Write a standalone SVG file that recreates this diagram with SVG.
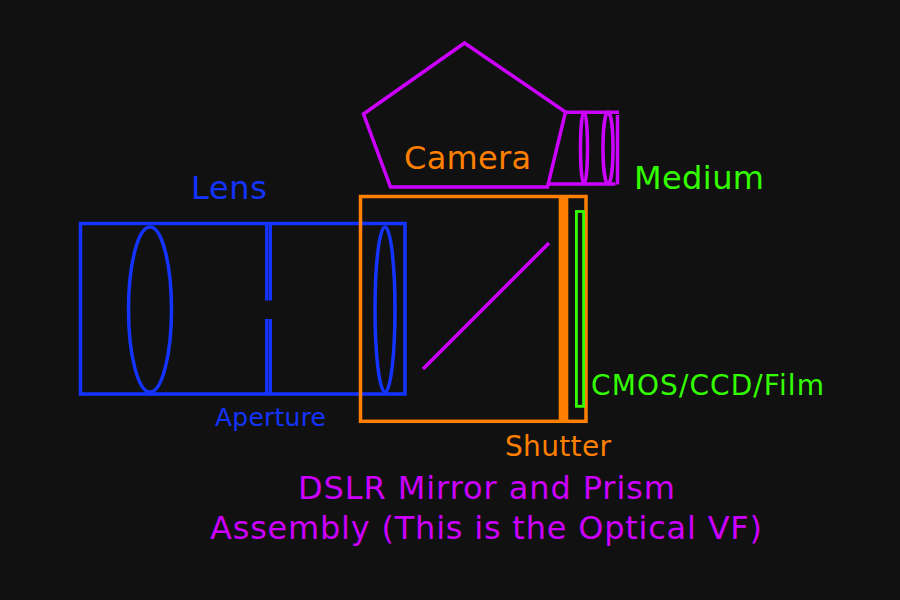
<svg xmlns="http://www.w3.org/2000/svg" width="900" height="600" viewBox="0 0 900 600">
<style>
.s{fill:none;stroke-width:3.5}
.b{stroke:#1433ff}.o{stroke:#ff8000}.p{stroke:#cc00ff}.g{stroke:#33ff00}
text{font-family:"DejaVu Sans",sans-serif;text-anchor:middle;text-rendering:optimizeSpeed}
</style>
<rect width="900" height="600" fill="#111111"/>
<g id="lens">
<rect class="s b" x="80.500" y="223.500" width="324.500" height="170.500"/>
<ellipse class="s b" cx="150" cy="309.500" rx="21.500" ry="82.500"/>
<ellipse class="s b" cx="385" cy="309.500" rx="10" ry="82.500"/>
<text x="229" y="199" font-size="32" fill="#1433ff" textLength="76">Lens</text>
</g>
<g id="aperture">
<path class="b" stroke-width="3" d="M266.500 224V300.500M266.500 319V394"/>
<path class="b" stroke-width="3.600" d="M270.200 224V300.500M270.200 319V394"/>
<text x="270.500" y="426" font-size="25" fill="#1433ff" textLength="111">Aperture</text>
</g>
<g id="camera">
<rect class="s o" x="360.500" y="196.500" width="225.500" height="224.800"/>
<text x="467.500" y="168.500" font-size="32" fill="#ff8000" textLength="127">Camera</text>
</g>
<g id="shutter">
<rect x="558.700" y="196" width="9.600" height="224" fill="#ff8000"/>
<text x="558" y="456" font-size="28" fill="#ff8000" textLength="106">Shutter</text>
</g>
<g id="medium">
<rect class="g" fill="none" stroke-width="2.800" x="576.400" y="211.500" width="7.200" height="194.800"/>
<text x="699" y="188.500" font-size="32" fill="#33ff00" textLength="130">Medium</text>
<text x="707.500" y="395" font-size="28" fill="#33ff00" textLength="233">CMOS/CCD/Film</text>
</g>
<g id="prism">
<path class="s p" d="M464.500 43L565.500 112L547.500 187H390.500L363.500 114Z"/>
<path class="s p" d="M565.500 112.300H619M548 184H615.500"/>
<ellipse class="s p" cx="584" cy="148" rx="3.500" ry="36"/>
<ellipse class="s p" cx="608" cy="148" rx="5" ry="36"/>
<path class="s p" d="M617.500 115V184.500"/>
<text x="486.500" y="499" font-size="32" fill="#cc00ff" textLength="377">DSLR Mirror and Prism</text>
<text x="486" y="539" font-size="32" fill="#cc00ff" textLength="552">Assembly (This is the Optical VF)</text>
</g>
<g id="connectors">
<path class="s p" d="M423 369L549 243"/>
</g>
</svg>
